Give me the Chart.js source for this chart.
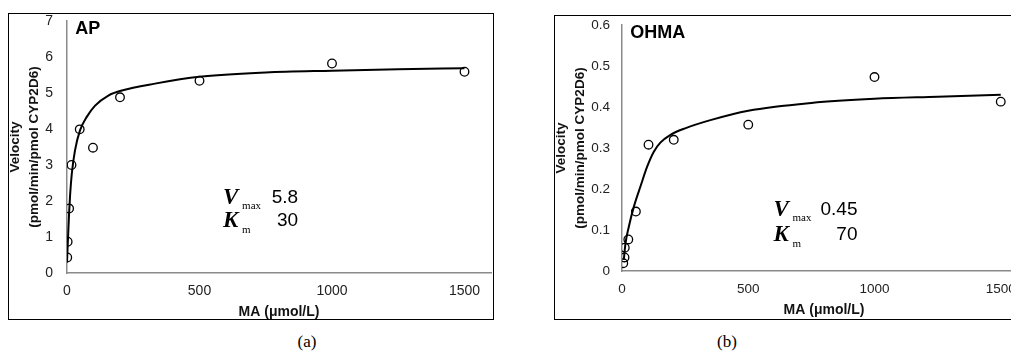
<!DOCTYPE html>
<html>
<head>
<meta charset="utf-8">
<script src="https://cdn.jsdelivr.net/npm/chart.js@4.4.1/dist/chart.umd.min.js"></script>
<style>
  html, body { margin: 0; padding: 0; background: #fff; width: 1011px; height: 353px; overflow: hidden; }
  canvas { position: absolute; }
  .frame { position: absolute; border: 1.5px solid #000; box-sizing: border-box; pointer-events: none; }
  .cap { position: absolute; font: 17px "Liberation Serif", "Times New Roman", serif; color: #000; transform: translate(-50%, -50%); }
</style>
</head>
<body>
<canvas id="chartAP" width="485" height="306" style="left:8px;top:13px"></canvas>
<div class="frame" style="left:8px;top:13px;width:486px;height:307px"></div>
<div class="cap" style="left:307px;top:342px">(a)</div>

<canvas id="chartOHMA" width="473" height="304" style="left:554px;top:15px"></canvas>
<div class="frame" style="left:554px;top:15px;width:480px;height:305px"></div>
<div class="cap" style="left:727px;top:342px">(b)</div>

<script>
// shared axis ticks
const xTicks = [0, 500, 1000, 1500];
const apTicksY = [0, 1, 2, 3, 4, 5, 6, 7];
const ohmaTicksY = [0, 0.1, 0.2, 0.3, 0.4, 0.5, 0.6];

const apConc = [1, 2.5, 8, 17, 48, 98, 200, 500, 1000, 1500];
const apVelocity = [0.43, 0.87, 1.79, 3.0, 3.99, 3.48, 4.88, 5.34, 5.82, 5.59];
const apFitX = [0, 2.5, 5, 7.5, 12, 18, 30, 49, 74, 106, 156, 207, 332, 500, 750, 1000, 1250, 1500];
const apFitY = [0.29, 0.75, 1.17, 1.6, 2.2, 2.75, 3.4, 3.96, 4.33, 4.65, 4.93, 5.07, 5.26, 5.45, 5.57, 5.62, 5.66, 5.69];

// OHMA: measured points + fitted curve
const ohmaConc = [5, 10, 11, 25, 55, 105, 205, 500, 1000, 1500];
const ohmaVelocity = [0.019, 0.033, 0.057, 0.077, 0.145, 0.308, 0.32, 0.357, 0.473, 0.413];
const ohmaFitX = [7, 14, 27, 47, 73, 100, 126, 152, 192, 250, 350, 500, 750, 1000, 1250, 1500];
const ohmaFitY = [0.027, 0.068, 0.108, 0.157, 0.206, 0.255, 0.291, 0.313, 0.332, 0.348, 0.368, 0.391, 0.41, 0.42, 0.425, 0.43];

const SANS = '"Liberation Sans", Arial, sans-serif';
const SERIF = '"Liberation Serif", "Times New Roman", serif';

// draws the panel name and the Vmax / Km block
const panelText = {
  id: 'panelText',
  afterDatasetsDraw(chart, args, o) {
    const { ctx, scales: { x, y } } = chart;
    ctx.save();
    ctx.fillStyle = '#000';
    ctx.textBaseline = 'middle';
    ctx.textAlign = 'left';
    ctx.font = 'bold 18px ' + SANS;
    ctx.fillText(o.label, x.getPixelForValue(o.labelAt[0]), y.getPixelForValue(o.labelAt[1]));

    const x0 = x.getPixelForValue(o.kinAt[0]);
    const y0 = y.getPixelForValue(o.kinAt[1]);
    const y1 = y0 + o.rowGap;
    ctx.font = 'italic bold 23px ' + SERIF;
    ctx.fillText('V', x0, y0);
    ctx.fillText('K', x0, y1);
    ctx.font = '11px ' + SERIF;
    ctx.fillText('max', x0 + 19, y0 + 8);
    ctx.fillText('m', x0 + 19, y1 + 9);
    ctx.font = '19px ' + SANS;
    ctx.textAlign = 'right';
    ctx.fillText(o.vmax, x0 + o.valueRight, y0);
    ctx.fillText(o.km, x0 + o.valueRight, y1);
    ctx.restore();
  }
};

function pairs(xs, ys) {
  return xs.map((v, i) => ({ x: v, y: ys[i] }));
}

function makeChart(id, c) {
  return new Chart(document.getElementById(id), {
    type: 'scatter',
    data: {
      datasets: [
        {
          data: pairs(c.fitX, c.fitY), showLine: true, borderColor: '#000', borderWidth: 2,
          pointRadius: 0, cubicInterpolationMode: 'monotone', order: 2
        },
        {
          data: pairs(c.conc, c.vel), showLine: false, pointRadius: 4.3, pointBorderWidth: 1.3,
          pointBorderColor: '#000', pointBackgroundColor: 'rgba(0,0,0,0)', order: 1
        }
      ]
    },
    options: {
      responsive: false,
      animation: false,
      devicePixelRatio: 1,
      layout: { autoPadding: false, padding: { top: c.top, right: c.right, left: 0, bottom: 0 } },
      plugins: { legend: { display: false }, tooltip: { enabled: false }, panelText: c.text },
      scales: {
        x: {
          type: 'linear', min: 0, max: 1600,
          afterBuildTicks: s => { s.ticks = xTicks.map(v => ({ value: v })); },
          afterFit: s => { s.height = c.xHeight; s.paddingLeft = 0; s.paddingRight = 0; },
          grid: { display: false, drawTicks: false },
          border: { display: true, color: '#8a8a8a', width: 1.5 },
          ticks: {
            color: '#222', font: { family: SANS, size: c.tickSize }, padding: 10,
            maxRotation: 0, autoSkip: false, callback: v => String(v)
          },
          title: {
            display: true, text: 'MA (μmol/L)', color: '#111',
            font: { family: SANS, size: 14, weight: 'bold', lineHeight: 1.15 },
            padding: { top: 0, bottom: c.xTitlePad }
          }
        },
        y: {
          type: 'linear', min: 0, max: c.yMax,
          afterBuildTicks: s => { s.ticks = c.yTicks.map(v => ({ value: v })); },
          afterFit: s => { s.width = c.yWidth; s.paddingTop = 0; s.paddingBottom = 0; },
          grid: { display: false, drawTicks: false },
          border: { display: true, color: '#8a8a8a', width: 1.5 },
          ticks: { color: '#222', font: { family: SANS, size: c.tickSize }, padding: c.yPad, callback: v => String(v) },
          title: {
            display: true, text: ['Velocity', '(pmol/min/pmol CYP2D6)'], color: '#111',
            font: { family: SANS, size: 13.5, weight: 'bold', lineHeight: 1.4 },
            padding: { top: -2, bottom: 0 }
          }
        }
      }
    },
    plugins: [panelText]
  });
}

makeChart('chartAP', {
  conc: apConc, vel: apVelocity, fitX: apFitX, fitY: apFitY,
  yTicks: apTicksY, yMax: 7, top: 8, right: 2, xHeight: 46, yWidth: 59, yPad: 14, tickSize: 14, xTitlePad: -1,
  text: { label: 'AP', labelAt: [31, 6.77], kinAt: [589, 2.09], rowGap: 23, vmax: '5.8', km: '30', valueRight: 75 }
});

makeChart('chartOHMA', {
  conc: ohmaConc, vel: ohmaVelocity, fitX: ohmaFitX, fitY: ohmaFitY,
  yTicks: ohmaTicksY, yMax: 0.6, top: 10, right: 1, xHeight: 48, yWidth: 68, yPad: 12, tickSize: 13.5, xTitlePad: 1,
  text: { label: 'OHMA', labelAt: [33, 0.58], kinAt: [600, 0.149], rowGap: 25, vmax: '0.45', km: '70', valueRight: 84 }
});
</script>
</body>
</html>
